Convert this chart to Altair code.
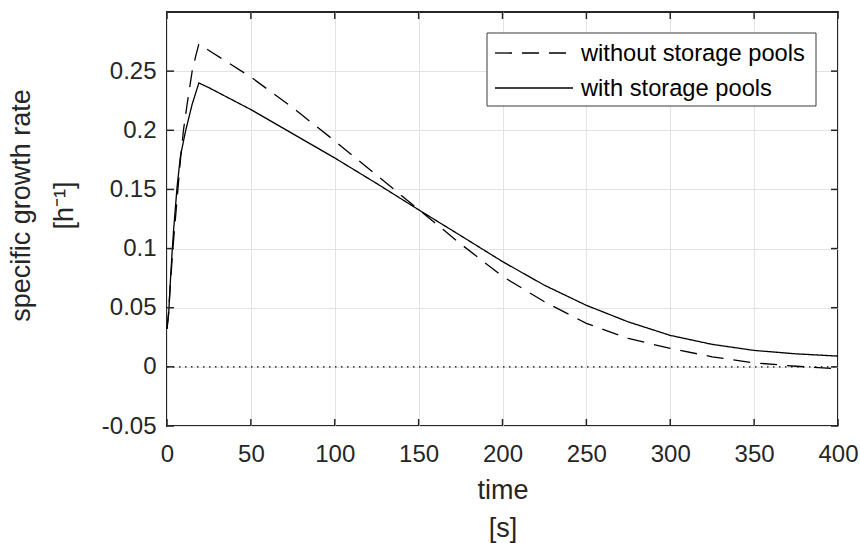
import altair as alt
import pandas as pd

# ---- data ----
series_names = ["without storage pools", "with storage pools"]

t_without = [0, 1, 2, 3.5, 5, 6.5, 8, 9.8, 12, 15, 17, 19, 25, 50, 75, 100, 125,
             150, 175, 200, 225, 250, 275, 300, 325, 350, 375, 400]
mu_without = [0.032, 0.047, 0.07, 0.1, 0.125, 0.15, 0.175, 0.2, 0.222, 0.25, 0.262,
              0.273, 0.2675, 0.245, 0.219, 0.191, 0.162, 0.133, 0.104, 0.0765,
              0.055, 0.0368, 0.024, 0.0156, 0.0085, 0.0034, 0.0005, -0.0017]

t_with = [0, 1, 2, 3, 4, 6, 8, 11, 15, 19, 25, 50, 75, 100, 125, 150, 175, 200,
          225, 250, 275, 300, 325, 350, 375, 400]
mu_with = [0.032, 0.045, 0.072, 0.096, 0.117, 0.152, 0.178, 0.199, 0.222, 0.240,
           0.236, 0.2175, 0.197, 0.1766, 0.155, 0.1328, 0.111, 0.089, 0.069, 0.052,
           0.038, 0.0266, 0.019, 0.0139, 0.011, 0.0091]

x_ticks = [0, 50, 100, 150, 200, 250, 300, 350, 400]
y_ticks = [-0.05, 0, 0.05, 0.1, 0.15, 0.2, 0.25]
y_frame_ticks = [-0.05, 0, 0.05, 0.1, 0.15, 0.2, 0.25, 0.3]
zero_line = [0]

x_title = ["time", "[s]"]
y_title = ["specific growth rate", "[h\u207b\u00b9]"]

# ---- build tables ----
df = pd.concat([
    pd.DataFrame({"t": t_without, "mu": mu_without, "series": series_names[0]}),
    pd.DataFrame({"t": t_with, "mu": mu_with, "series": series_names[1]}),
], ignore_index=True)

W, H = 671, 414
FONT = "Liberation Sans"
DARK = "#262626"
DASH = [17, 10]

xs = alt.Scale(domain=[0, 400], nice=False, zero=False)
ys = alt.Scale(domain=[-0.05, 0.3], nice=False, zero=False)

lines = alt.Chart(df).mark_line(color="black", strokeWidth=1.3).encode(
    x=alt.X("t:Q", scale=xs, title=x_title,
            axis=alt.Axis(values=x_ticks, grid=True, ticks=False, domain=False,
                          labelFlush=False, labelExpr="'' + datum.value")),
    y=alt.Y("mu:Q", scale=ys, title=y_title,
            axis=alt.Axis(values=y_ticks, grid=True, ticks=False, domain=False,
                          labelExpr="'' + datum.value",
                          titleX=-132, titleY=193)),
    strokeDash=alt.StrokeDash(
        "series:N",
        scale=alt.Scale(domain=series_names, range=[DASH, [1, 0]]),
        legend=None,
    ),
)

zero = alt.Chart(pd.DataFrame({"mu": zero_line})).mark_rule(
    color="black", strokeWidth=1.2, strokeDash=[1.5, 4.5]
).encode(y=alt.Y("mu:Q", scale=ys), x=alt.value(0), x2=alt.value(W))

xt = pd.DataFrame({"t": x_ticks})
yt = pd.DataFrame({"mu": y_frame_ticks})
tick_style = dict(color=DARK, strokeWidth=1.5)
tick_bottom = alt.Chart(xt).mark_rule(**tick_style).encode(
    x=alt.X("t:Q", scale=xs), y=alt.value(H), y2=alt.value(H - 7))
tick_top = alt.Chart(xt).mark_rule(**tick_style).encode(
    x=alt.X("t:Q", scale=xs), y=alt.value(0), y2=alt.value(7))
tick_left = alt.Chart(yt).mark_rule(**tick_style).encode(
    y=alt.Y("mu:Q", scale=ys), x=alt.value(0), x2=alt.value(7))
tick_right = alt.Chart(yt).mark_rule(**tick_style).encode(
    y=alt.Y("mu:Q", scale=ys), x=alt.value(W), x2=alt.value(W - 7))

# ---- manual legend (box, line samples, labels) ----
LX0, LX1, LY0, LY1 = 320, 649, 21, 94
ROW_Y = [41, 76]
leg_box = alt.Chart(pd.DataFrame({"k": [0]})).mark_rect(
    fill="white", stroke="#3a3a3a", strokeWidth=1
).encode(x=alt.value(LX0), x2=alt.value(LX1), y=alt.value(LY0), y2=alt.value(LY1))

leg_layers = [leg_box]
for i, name in enumerate(series_names):
    row = pd.DataFrame({"label": [name]})
    dash = DASH if i == 0 else [1, 0]
    leg_layers.append(
        alt.Chart(row).mark_rule(color="black", strokeWidth=1.3, strokeDash=dash).encode(
            x=alt.value(328), x2=alt.value(406), y=alt.value(ROW_Y[i]))
    )
    leg_layers.append(
        alt.Chart(row).mark_text(
            align="left", baseline="middle", font=FONT, fontSize=23.7, color="black"
        ).encode(text="label:N", x=alt.value(414), y=alt.value(ROW_Y[i] + 1))
    )

chart = alt.layer(
    zero, lines, tick_bottom, tick_top, tick_left, tick_right, *leg_layers
).properties(
    width=W, height=H,
    autosize=alt.AutoSizeParams(type="none"),
    padding={"left": 167, "top": 12, "right": 22, "bottom": 117},
    background="white",
).configure_view(
    stroke=DARK, strokeWidth=2
).configure_axis(
    labelFont=FONT, labelFontSize=24, labelColor=DARK,
    titleFont=FONT, titleFontSize=27, titleColor=DARK, titleFontWeight="normal",
    gridColor="#e3e3e3", gridWidth=1,
).configure_axisX(
    labelPadding=16, titlePadding=11, titleLineHeight=38,
).configure_axisY(
    labelPadding=11, titleLineHeight=43,
)

chart.save("out.html", embed_options={"renderer": "svg", "actions": False})
